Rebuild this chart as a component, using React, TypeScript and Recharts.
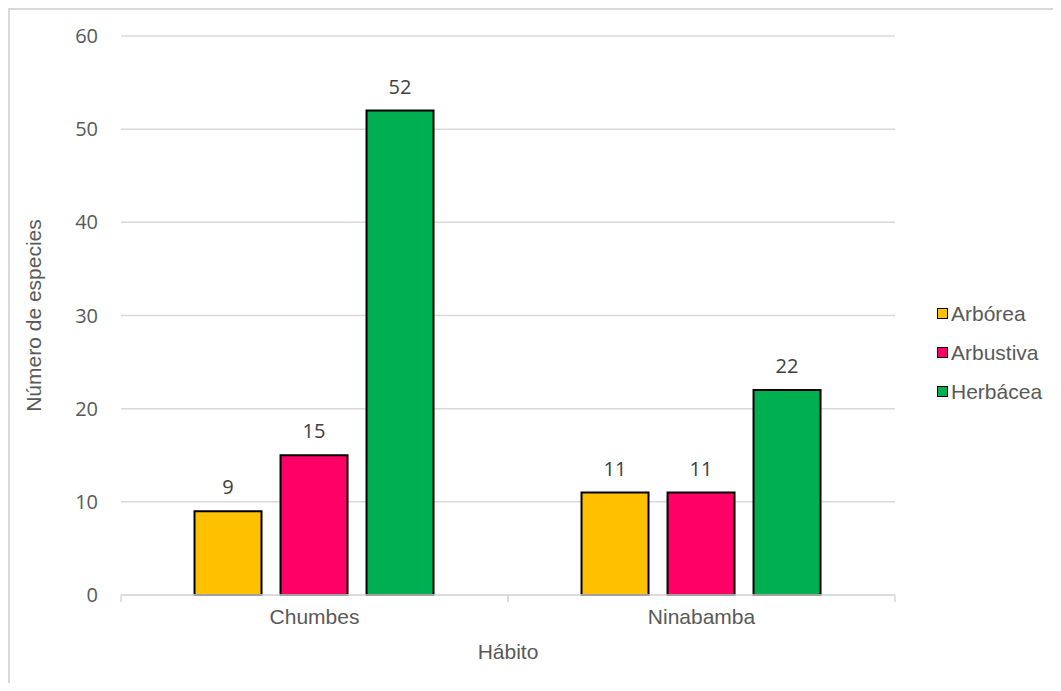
import React from 'react';
import { BarChart, Bar, XAxis, YAxis, CartesianGrid, LabelList } from 'recharts';

const categories = ['Chumbes', 'Ninabamba'];
const arborea = [9, 11];
const arbustiva = [15, 11];
const herbacea = [52, 22];
const yTicks = [0, 10, 20, 30, 40, 50, 60];
const seriesKeys = ['arborea', 'arbustiva', 'herbacea'];
const seriesNames = ['Arbórea', 'Arbustiva', 'Herbácea'];
const seriesColors = ['#FFC000', '#FF0066', '#00B050'];

const data = categories.map((c, i) => ({
  name: c,
  arborea: arborea[i],
  arbustiva: arbustiva[i],
  herbacea: herbacea[i],
}));

const ARIAL = '"Liberation Sans", Arial, sans-serif';
const NUMF = '"Open Sans", "Liberation Sans", sans-serif';

const CatTick = (props: any) => {
  const { x, y, payload, width, visibleTicksCount } = props;
  const half =
    payload && payload.offset ? payload.offset : width / (visibleTicksCount || categories.length) / 2;
  return (
    <g>
      <line x1={x - half} y1={y} x2={x - half} y2={y + 7} stroke="#d9d9d9" strokeWidth={1.5} />
      <line x1={x + half} y1={y} x2={x + half} y2={y + 7} stroke="#d9d9d9" strokeWidth={1.5} />
      <text x={x} y={y + 29} textAnchor="middle" fill="#595959" fontSize={21} fontFamily={ARIAL}>
        {payload.value}
      </text>
    </g>
  );
};

const YLabel = (props: any) => {
  const vb = props.viewBox || {};
  const cx = 23;
  const cy = vb.y + vb.height / 2;
  return (
    <text
      x={cx}
      y={cy}
      transform={`rotate(-90, ${cx}, ${cy})`}
      textAnchor="middle"
      dominantBaseline="central"
      fill="#595959"
      fontSize={21}
      fontFamily={ARIAL}
    >
      Número de especies
    </text>
  );
};

const XLabel = (props: any) => {
  const vb = props.viewBox || {};
  return (
    <text
      x={vb.x + vb.width / 2}
      y={649}
      textAnchor="middle"
      fill="#595959"
      fontSize={21}
      fontFamily={ARIAL}
    >
      Hábito
    </text>
  );
};

const LegendBox = () => (
  <div
    style={{
      position: 'absolute',
      left: 927,
      top: 284,
      fontFamily: ARIAL,
      fontSize: 21,
      color: '#595959',
    }}
  >
    {seriesNames.map((n, i) => (
      <div key={n} style={{ height: 39, display: 'flex', alignItems: 'center', whiteSpace: 'nowrap' }}>
        <span
          style={{
            display: 'inline-block',
            width: 9,
            height: 9,
            background: seriesColors[i],
            border: '1.5px solid #000',
            marginRight: 3,
          }}
        />
        <span>{n}</span>
      </div>
    ))}
  </div>
);

export default function App() {
  return (
    <div
      style={{
        width: 1043,
        height: 673,
        borderTop: '2px solid #d9d9d9',
        borderLeft: '2px solid #d9d9d9',
        background: '#fff',
        position: 'relative',
      }}
    >
      <BarChart
        width={1043}
        height={673}
        data={data}
        margin={{ top: 26, right: 158, bottom: 0, left: 0 }}
        barCategoryGap="19%"
        barGap={19}
      >
        <CartesianGrid horizontal vertical={false} stroke="#d9d9d9" strokeWidth={1.5} />
        <XAxis
          dataKey="name"
          height={88}
          interval={0}
          tickSize={0}
          tickMargin={0}
          tick={<CatTick />}
          tickLine={false}
          axisLine={{ stroke: '#d9d9d9', strokeWidth: 1.5 }}
          label={<XLabel />}
        />
        <YAxis
          width={111}
          domain={[0, 60]}
          ticks={yTicks}
          axisLine={false}
          tickLine={false}
          tickSize={0}
          tickMargin={23}
          tick={{ fill: '#595959', fontSize: 20, fontFamily: NUMF }}
          label={<YLabel />}
        />
        {seriesKeys.map((k, i) => (
          <Bar
            key={k}
            dataKey={k}
            name={seriesNames[i]}
            fill={seriesColors[i]}
            stroke="#000"
            strokeWidth={2}
            isAnimationActive={false}
          >
            <LabelList
              dataKey={k}
              position="top"
              offset={17}
              fill="#404040"
              fontSize={20}
              fontFamily={NUMF}
            />
          </Bar>
        ))}
      </BarChart>
      <LegendBox />
    </div>
  );
}
